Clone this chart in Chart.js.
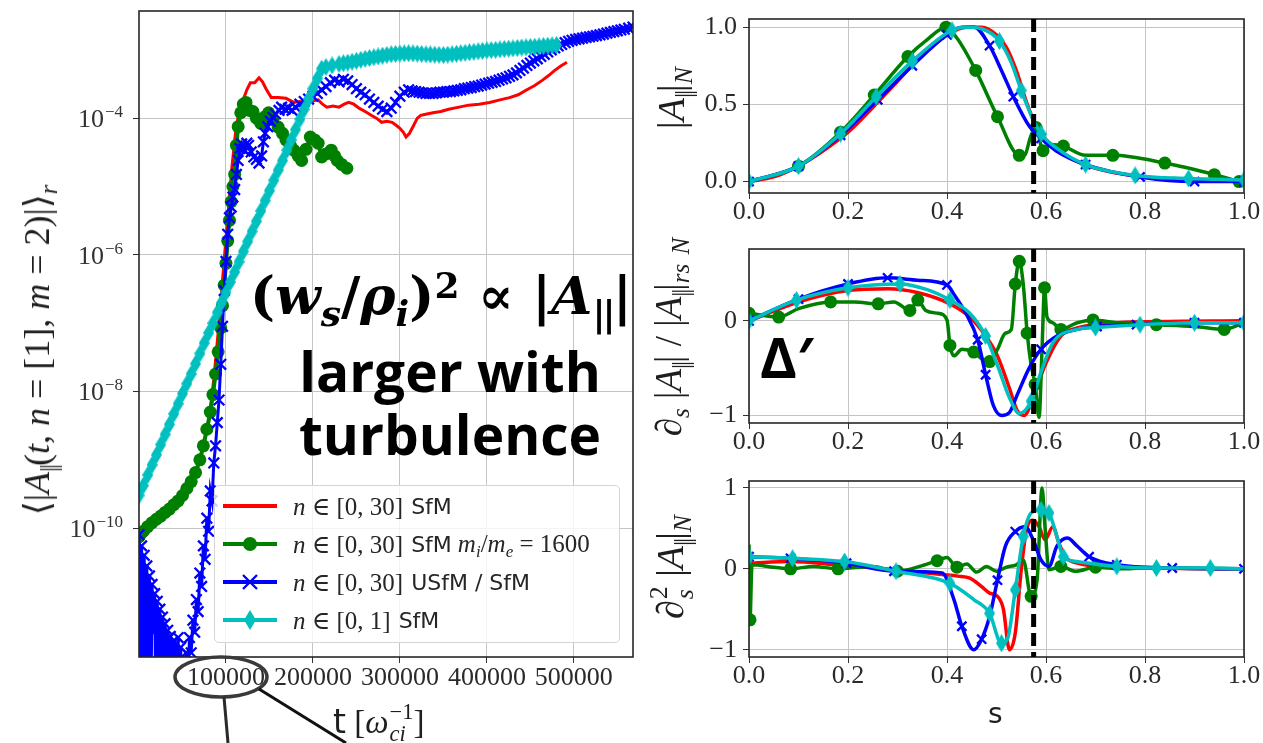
<!DOCTYPE html>
<html>
<head>
<meta charset="utf-8">
<script src="https://cdn.jsdelivr.net/npm/chart.js@4.4.0/dist/chart.umd.min.js"></script>
<style>
  body { margin: 0; background: #fff; }
  #fig { position: relative; width: 1263px; height: 743px; overflow: hidden; background: #fff; }
  #fig canvas { position: absolute; }
  .txt { position: absolute; white-space: nowrap; color: #1e1e1e; line-height: 1; }
  .serif { font-family: 'Liberation Serif', 'DejaVu Serif', serif; }
  .sans { font-family: 'DejaVu Sans', sans-serif; }
  .rot { transform: translate(-50%, -50%) rotate(-90deg); }
  sub, sup { font-size: 0.68em; line-height: 0; position: relative; vertical-align: baseline; }
  sub { top: 0.32em; }
  sup { top: -0.45em; }
  .par { letter-spacing: -0.08em; }
  .stack { display: inline-flex; flex-direction: column; font-size: 0.68em; line-height: 1; vertical-align: 0.62em; margin-left: 1px; }
  #legend { position: absolute; left: 214px; top: 485px; width: 406px; height: 158px; box-sizing: border-box;
            border: 1px solid #d4d4d4; border-radius: 5px; background: rgba(255,255,255,0.8); }
  #legend .row { position: absolute; left: 0; height: 30px; display: flex; align-items: center; white-space: nowrap; color: #262626; }
  #legend svg { margin-left: 6px; margin-right: 14px; }
  #legend .serif { font-size: 25px; }
  #legend .sans { font-size: 22px; margin-left: 8px; }
  .note { position: absolute; color: #000; white-space: nowrap; }
</style>
</head>
<body>
<div id="fig">
  <canvas id="timeTrace" width="650" height="743" style="left:0;top:0"></canvas>
  <canvas id="profile" width="613" height="230" style="left:650px;top:0"></canvas>
  <canvas id="slope" width="613" height="230" style="left:650px;top:230px"></canvas>
  <canvas id="curvature" width="613" height="240" style="left:650px;top:460px"></canvas>

  <!-- axis titles -->
  <div class="txt serif rot" style="left:37px;top:350px;font-size:36px">⟨|<i>A</i><sub class="par">||</sub>(<i>t</i>, <i>n</i> = [1], <i>m</i> = 2)|⟩<sub><i>r</i></sub></div>
  <div class="txt" style="left:333px;top:701px;font-size:33px"><span class="sans">t</span> <span class="serif">[<i>ω</i><span class="stack"><span>−1</span><span><i>ci</i></span></span>]</span></div>
  <div class="txt serif rot" style="left:671px;top:98px;font-size:38px">|<i>A</i><sub class="par">||</sub>|<sub><i>N</i></sub></div>
  <div class="txt serif rot" style="left:668px;top:337px;font-size:37px">∂<sub><i>s</i></sub> |<i>A</i><sub class="par">||</sub>| / |<i>A</i><sub class="par">||</sub>|<sub><i>rs</i></sub> <sub><i>N</i></sub></div>
  <div class="txt serif rot" style="left:672px;top:567px;font-size:38px">∂<span class="stack"><span>2</span><span><i>s</i></span></span> |<i>A</i><sub class="par">||</sub>|<sub><i>N</i></sub></div>
  <div class="txt sans" style="left:988px;top:700px;font-size:28px">s</div>

  <!-- legend of the time traces -->
  <div id="legend">
    <div class="row" style="top:5px"><svg width="58" height="24"><line x1="2" y1="12" x2="56" y2="12" stroke="#ff0000" stroke-width="4"/></svg><span class="serif"><i>n</i> ∈ [0, 30]</span><span class="sans">SfM</span></div>
    <div class="row" style="top:43px"><svg width="58" height="24"><line x1="2" y1="12" x2="56" y2="12" stroke="#008000" stroke-width="4"/><circle cx="29" cy="12" r="7" fill="#008000"/></svg><span class="serif"><i>n</i> ∈ [0, 30]</span><span class="sans">SfM</span><span class="serif" style="margin-left:6px"><i>m<sub>i</sub></i>/<i>m<sub>e</sub></i> = 1600</span></div>
    <div class="row" style="top:81px"><svg width="58" height="24"><line x1="2" y1="12" x2="56" y2="12" stroke="#0000ff" stroke-width="4"/><path d="M22 5 L36 19 M36 5 L22 19" stroke="#0000ff" stroke-width="2.4"/></svg><span class="serif"><i>n</i> ∈ [0, 30]</span><span class="sans">USfM / SfM</span></div>
    <div class="row" style="top:119px"><svg width="58" height="24"><line x1="2" y1="12" x2="56" y2="12" stroke="#00bfbf" stroke-width="4"/><path d="M29 2 L35 12 L29 22 L23 12 Z" fill="#00bfbf"/></svg><span class="serif"><i>n</i> ∈ [0, 1]</span><span class="sans">SfM</span></div>
  </div>

  <!-- annotations -->
  <div class="note" style="left:250px;top:264px;font:bold 53px 'DejaVu Serif',serif">(<i>w</i><sub><i>s</i></sub>/<i>ρ</i><sub><i>i</i></sub>)<sup>2</sup> ∝ |<i>A</i><sub class="par">||</sub>|</div>
  <div class="note" style="left:450px;top:339px;transform:translateX(-50%);text-align:center;font:bold 55px 'Open Sans',sans-serif;line-height:63px">larger with<br>turbulence</div>
  <div class="note" style="left:760px;top:318px;font:bold 56px 'Open Sans','DejaVu Sans',sans-serif">Δ′</div>
  <svg width="1263" height="743" style="position:absolute;left:0;top:0;pointer-events:none">
    <ellipse cx="221" cy="677" rx="46" ry="20" fill="none" stroke="#3a3a3a" stroke-width="3.5"/>
    <line x1="224" y1="697" x2="228" y2="743" stroke="#2a2a2a" stroke-width="3"/>
    <line x1="259" y1="689" x2="346" y2="743" stroke="#111" stroke-width="3"/>
  </svg>
</div>

<script>
// ---------- time traces: t [1/omega_ci] vs <|A_par(t, n=[1], m=2)|>_r ----------
const tTicks = [100000, 200000, 300000, 400000, 500000];
const ampTicks = [1e-10, 1e-8, 1e-6, 1e-4];

const sfmTrace = [
  [0, 6.0e-11], [20e3, 1.2e-10], [40e3, 2.2e-10], [60e3, 4.6e-10], [70e3, 9.5e-10], [80e3, 3.5e-9],
  [86e3, 1.5e-8], [92e3, 1.0e-7], [97e3, 6.0e-7], [102e3, 3.5e-6], [107e3, 2.0e-5], [112e3, 8.0e-5],
  [118e3, 1.6e-4], [124e3, 2.6e-4], [128e3, 3.3e-4], [133e3, 3.3e-4], [138e3, 3.9e-4], [142e3, 3.4e-4],
  [146e3, 2.7e-4], [152e3, 2.0e-4], [160e3, 2.0e-4], [169e3, 1.95e-4], [178e3, 1.7e-4], [185e3, 1.75e-4],
  [192e3, 1.7e-4], [200e3, 1.8e-4], [206e3, 1.85e-4], [211e3, 1.6e-4], [216e3, 1.45e-4], [223e3, 1.5e-4],
  [230e3, 1.45e-4], [236e3, 1.6e-4], [241e3, 1.7e-4], [247e3, 1.6e-4], [253e3, 1.4e-4], [260e3, 1.25e-4],
  [267e3, 1.1e-4], [273e3, 1.0e-4], [279e3, 8.7e-5], [285e3, 9.0e-5], [291e3, 8.7e-5], [296e3, 7.8e-5],
  [300e3, 7.1e-5], [304e3, 6.2e-5], [307e3, 5.3e-5], [311e3, 6.0e-5], [315e3, 7.5e-5], [320e3, 1.0e-4],
  [324e3, 1.1e-4], [331e3, 1.15e-4], [338e3, 1.2e-4], [347e3, 1.25e-4], [356e3, 1.35e-4], [368e3, 1.45e-4],
  [379e3, 1.55e-4], [391e3, 1.6e-4], [403e3, 1.7e-4], [415e3, 1.85e-4], [426e3, 2.0e-4], [436e3, 2.2e-4],
  [446e3, 2.6e-4], [455e3, 3.0e-4], [464e3, 3.6e-4], [471e3, 4.2e-4], [478e3, 5.0e-4], [485e3, 5.8e-4],
  [492e3, 6.6e-4]
];

const massTrace = [
  [0, 7.5e-11], [5e3, 9.0e-11], [10e3, 1.05e-10], [15e3, 1.2e-10], [20e3, 1.35e-10], [25e3, 1.5e-10],
  [30e3, 1.7e-10], [35e3, 1.9e-10], [40e3, 2.2e-10], [45e3, 2.5e-10], [50e3, 3.0e-10], [55e3, 3.8e-10],
  [60e3, 4.8e-10], [65e3, 6.5e-10], [70e3, 1.0e-9], [74e3, 1.6e-9], [78e3, 2.8e-9], [82e3, 5.0e-9],
  [85e3, 9.0e-9], [88e3, 1.8e-8], [91e3, 3.8e-8], [94e3, 8.5e-8], [96e3, 1.8e-7], [98e3, 3.6e-7],
  [100e3, 7.5e-7], [102e3, 1.6e-6], [104e3, 3.2e-6], [106e3, 6.0e-6], [108e3, 1.0e-5], [110e3, 1.5e-5],
  [112e3, 4.0e-5], [114e3, 7.5e-5], [117e3, 1.2e-4], [120e3, 1.6e-4], [123e3, 1.7e-4], [127e3, 1.3e-4],
  [131e3, 1.25e-4], [135e3, 1.0e-4], [140e3, 8.4e-5], [145e3, 1.05e-4], [149e3, 1.2e-4], [154e3, 9.5e-5],
  [160e3, 7.4e-5], [165e3, 6.0e-5], [169e3, 4.8e-5], [174e3, 4.0e-5], [178e3, 3.4e-5], [183e3, 2.8e-5],
  [187e3, 2.4e-5], [192e3, 3.5e-5], [197e3, 5.3e-5], [202e3, 4.8e-5], [206e3, 4.3e-5], [210e3, 2.7e-5],
  [215e3, 3.0e-5], [221e3, 3.4e-5], [225e3, 2.8e-5], [228e3, 2.4e-5], [233e3, 2.1e-5], [239e3, 1.85e-5]
];

const usfmTrace = [
  [0, 8.0e-11], [1.5e3, 1e-13], [3e3, 5.5e-11], [4.5e3, 1e-13], [6e3, 4.0e-11], [7.5e3, 1e-13],
  [9e3, 2.8e-11], [10.5e3, 1e-13], [12e3, 2.0e-11], [13.5e3, 1e-13], [15e3, 1.5e-11], [16.5e3, 3e-12],
  [18e3, 1.1e-11], [19.5e3, 1e-13], [21e3, 8.5e-12], [22.5e3, 1e-13], [24e3, 6.5e-12], [25.5e3, 1e-13],
  [27e3, 5.0e-12], [28.5e3, 1e-13], [30e3, 4.0e-12], [31.5e3, 1e-13], [33e3, 3.2e-12], [34.5e3, 1e-13],
  [36e3, 2.6e-12], [37.5e3, 1e-13], [39e3, 2.2e-12], [40.5e3, 1e-13], [42e3, 2.0e-12], [43.5e3, 1e-13],
  [45e3, 2.5e-12], [46.5e3, 1e-13], [48e3, 1.8e-12], [49.5e3, 1e-13], [51e3, 1.2e-12], [52.5e3, 1e-13],
  [54e3, 1.5e-12], [56e3, 3e-13], [58e3, 2.5e-12], [60e3, 1.5e-12], [62e3, 4.5e-12], [64e3, 3.0e-12],
  [66e3, 9.0e-12], [68e3, 6.0e-12], [70e3, 2.2e-11], [72e3, 1.4e-11], [74e3, 5.5e-11], [76e3, 3.5e-11],
  [78e3, 1.4e-10], [80e3, 9.0e-11], [82e3, 3.5e-10], [84e3, 2.5e-10], [86e3, 9.0e-10], [88e3, 1.6e-9],
  [90e3, 3.5e-9], [92e3, 7.5e-9], [94e3, 2.5e-8], [96e3, 9.0e-8], [98e3, 3.0e-7], [100e3, 8.0e-7],
  [102e3, 2.0e-6], [104e3, 3.5e-6], [106e3, 5.0e-6], [108e3, 7.0e-6], [110e3, 9.0e-6], [112e3, 1.5e-5],
  [114e3, 2.4e-5], [116e3, 3.6e-5], [118e3, 4.2e-5], [120e3, 3.5e-5], [122e3, 3.3e-5], [124e3, 4.3e-5],
  [126e3, 4.0e-5], [129e3, 3.2e-5], [132e3, 2.7e-5], [135e3, 2.5e-5], [138e3, 2.2e-5], [141e3, 2.8e-5],
  [143e3, 4.5e-5], [145e3, 6.0e-5], [148e3, 7.5e-5], [151e3, 9.0e-5], [154e3, 1.03e-4], [157e3, 1.15e-4],
  [161e3, 1.3e-4], [164e3, 1.45e-4], [168e3, 1.35e-4], [172e3, 1.4e-4], [176e3, 1.3e-4], [180e3, 1.45e-4],
  [185e3, 1.6e-4], [190e3, 1.75e-4], [195e3, 1.9e-4], [200e3, 2.1e-4], [205e3, 2.3e-4], [210e3, 2.6e-4],
  [215e3, 2.9e-4], [220e3, 3.3e-4], [225e3, 3.6e-4], [230e3, 3.4e-4], [235e3, 3.7e-4], [240e3, 3.5e-4],
  [245e3, 3.1e-4], [250e3, 2.7e-4], [255e3, 2.4e-4], [260e3, 2.2e-4], [265e3, 1.9e-4], [270e3, 1.7e-4],
  [275e3, 1.5e-4], [280e3, 1.35e-4], [285e3, 1.25e-4], [290e3, 1.4e-4], [295e3, 1.7e-4], [300e3, 2.1e-4],
  [305e3, 2.4e-4], [310e3, 2.6e-4], [314e3, 2.5e-4], [318e3, 2.45e-4], [322e3, 2.4e-4], [326e3, 2.35e-4],
  [330e3, 2.3e-4], [334e3, 2.3e-4], [338e3, 2.3e-4], [342e3, 2.35e-4], [346e3, 2.4e-4], [350e3, 2.4e-4],
  [354e3, 2.45e-4], [358e3, 2.45e-4], [362e3, 2.5e-4], [366e3, 2.55e-4], [370e3, 2.6e-4], [374e3, 2.7e-4],
  [378e3, 2.75e-4], [382e3, 2.8e-4], [386e3, 2.9e-4], [390e3, 2.95e-4], [394e3, 3.05e-4], [398e3, 3.15e-4],
  [402e3, 3.25e-4], [406e3, 3.35e-4], [410e3, 3.45e-4], [414e3, 3.6e-4], [418e3, 3.75e-4], [422e3, 3.9e-4],
  [426e3, 4.1e-4], [430e3, 4.3e-4], [434e3, 4.6e-4], [438e3, 5.0e-4], [442e3, 5.4e-4], [446e3, 5.9e-4],
  [450e3, 6.4e-4], [454e3, 6.9e-4], [458e3, 7.4e-4], [462e3, 8.0e-4], [466e3, 8.6e-4], [470e3, 9.3e-4],
  [474e3, 1.0e-3], [478e3, 1.07e-3], [482e3, 1.14e-3], [486e3, 1.2e-3], [490e3, 1.27e-3], [494e3, 1.33e-3],
  [498e3, 1.38e-3], [502e3, 1.42e-3], [506e3, 1.45e-3], [510e3, 1.48e-3], [514e3, 1.52e-3], [518e3, 1.55e-3],
  [522e3, 1.58e-3], [526e3, 1.62e-3], [530e3, 1.66e-3], [534e3, 1.7e-3], [538e3, 1.75e-3], [542e3, 1.8e-3],
  [546e3, 1.85e-3], [550e3, 1.9e-3], [554e3, 1.95e-3], [558e3, 2.0e-3], [563e3, 2.07e-3], [568e3, 2.15e-3]
];

const singleTrace = [
  [0, 3.0e-10], [5e3, 4.2e-10], [10e3, 6.0e-10], [15e3, 8.4e-10], [20e3, 1.18e-9], [25e3, 1.67e-9],
  [30e3, 2.35e-9], [35e3, 3.3e-9], [40e3, 4.7e-9], [45e3, 6.6e-9], [50e3, 9.3e-9], [55e3, 1.3e-8],
  [60e3, 1.8e-8], [65e3, 2.55e-8], [70e3, 3.6e-8], [75e3, 5.1e-8], [80e3, 7.2e-8], [85e3, 1.0e-7],
  [90e3, 1.43e-7], [95e3, 2.0e-7], [100e3, 2.8e-7], [105e3, 4.0e-7], [110e3, 5.6e-7], [115e3, 7.9e-7],
  [120e3, 1.12e-6], [125e3, 1.57e-6], [130e3, 2.2e-6], [135e3, 3.1e-6], [140e3, 4.4e-6], [145e3, 6.2e-6],
  [150e3, 8.7e-6], [155e3, 1.23e-5], [160e3, 1.73e-5], [165e3, 2.4e-5], [170e3, 3.4e-5], [175e3, 4.8e-5],
  [180e3, 6.8e-5], [185e3, 9.6e-5], [190e3, 1.35e-4], [195e3, 1.9e-4], [200e3, 2.7e-4], [205e3, 3.8e-4],
  [210e3, 5.3e-4], [215e3, 5.6e-4], [222e3, 5.9e-4], [230e3, 6.2e-4], [235e3, 6.35e-4], [240e3, 6.5e-4],
  [245e3, 6.7e-4], [250e3, 6.9e-4], [255e3, 7.15e-4], [260e3, 7.4e-4], [265e3, 7.6e-4], [270e3, 7.8e-4],
  [275e3, 8.0e-4], [280e3, 8.2e-4], [285e3, 8.4e-4], [290e3, 8.6e-4], [295e3, 8.7e-4], [300e3, 8.8e-4],
  [305e3, 8.85e-4], [310e3, 8.9e-4], [315e3, 8.85e-4], [320e3, 8.8e-4], [325e3, 8.7e-4], [330e3, 8.6e-4],
  [335e3, 8.55e-4], [340e3, 8.5e-4], [345e3, 8.45e-4], [350e3, 8.4e-4], [355e3, 8.5e-4], [360e3, 8.6e-4],
  [365e3, 8.75e-4], [370e3, 8.9e-4], [375e3, 9.05e-4], [380e3, 9.2e-4], [385e3, 9.35e-4], [390e3, 9.5e-4],
  [395e3, 9.65e-4], [400e3, 9.8e-4], [405e3, 9.9e-4], [410e3, 1.0e-3], [415e3, 1.015e-3], [420e3, 1.03e-3],
  [425e3, 1.04e-3], [430e3, 1.05e-3], [435e3, 1.065e-3], [440e3, 1.08e-3], [445e3, 1.09e-3], [450e3, 1.1e-3],
  [455e3, 1.11e-3], [460e3, 1.12e-3], [465e3, 1.135e-3], [470e3, 1.15e-3], [475e3, 1.16e-3], [480e3, 1.17e-3]
];

// ---------- radial profiles vs s ----------
const sTicks = [0, 0.2, 0.4, 0.6, 0.8, 1.0];
const sRes = 0.575;            // rational surface (dashed line)
const profTicks = [0, 0.5, 1.0];
const slopeTicks = [-1, 0];
const curvTicks = [-1, 0, 1];

// |A_par|_N
const profSfm = [[0, 0], [0.05, 0.03], [0.1, 0.1], [0.15, 0.2], [0.2, 0.32], [0.25, 0.48], [0.3, 0.65], [0.35, 0.82],
  [0.4, 0.95], [0.44, 1.0], [0.47, 1.0], [0.5, 0.95], [0.52, 0.87], [0.54, 0.72], [0.56, 0.52], [0.58, 0.36],
  [0.6, 0.27], [0.63, 0.19], [0.67, 0.12], [0.72, 0.07], [0.8, 0.03], [0.9, 0.01], [1.0, 0.0]];
const profMass = [[0, 0], [0.1, 0.1], [0.185, 0.32], [0.253, 0.56], [0.321, 0.81], [0.36, 0.92], [0.398, 1.0],
  [0.42, 0.93], [0.458, 0.72], [0.502, 0.42], [0.546, 0.17], [0.556, 0.17], [0.57, 0.3], [0.58, 0.35],
  [0.594, 0.2], [0.61, 0.24], [0.635, 0.23], [0.68, 0.17], [0.735, 0.17], [0.84, 0.12], [0.94, 0.045], [0.99, 0.0]];
const profUsfm = [[0, 0], [0.1, 0.1], [0.185, 0.3], [0.26, 0.53], [0.33, 0.75], [0.4, 0.95], [0.43, 1.0], [0.455, 1.0],
  [0.486, 0.88], [0.51, 0.72], [0.534, 0.55], [0.566, 0.36], [0.59, 0.28], [0.62, 0.2], [0.68, 0.11], [0.79, 0.03],
  [0.9, 0.0], [1.0, 0.0]];
const profSingle = [[0, 0], [0.1, 0.1], [0.185, 0.31], [0.257, 0.55], [0.33, 0.78], [0.41, 0.98], [0.44, 1.0],
  [0.47, 0.99], [0.506, 0.91], [0.53, 0.77], [0.55, 0.59], [0.57, 0.43], [0.59, 0.31], [0.62, 0.22], [0.68, 0.11],
  [0.78, 0.04], [0.888, 0.02], [1.0, 0.01]];

// d_s|A_par| / |A_par|_rs
const slopeSfm = [[0, 0], [0.1, 0.2], [0.2, 0.32], [0.28, 0.34], [0.34, 0.3], [0.406, 0.18], [0.446, 0.04],
  [0.478, -0.16], [0.502, -0.37], [0.526, -0.71], [0.542, -0.95], [0.556, -1.0], [0.574, -0.81], [0.598, -0.47],
  [0.63, -0.16], [0.663, -0.075], [0.743, -0.02], [1.0, 0]];
const slopeMass = [[0, 0.08], [0.06, 0.04], [0.1, 0.13], [0.165, 0.2], [0.213, 0.2], [0.261, 0.18], [0.293, 0.2],
  [0.325, 0.11], [0.341, 0.22], [0.357, 0.11], [0.382, 0.08], [0.4, 0.01], [0.406, -0.26], [0.414, -0.37],
  [0.43, -0.3], [0.454, -0.33], [0.47, -0.4], [0.486, -0.43], [0.502, -0.3], [0.518, -0.13], [0.53, -0.09],
  [0.538, 0.39], [0.546, 0.63], [0.554, 0.39], [0.562, -0.13], [0.57, -0.47], [0.578, -0.67], [0.586, -1.02],
  [0.592, -0.3], [0.597, 0.35], [0.602, 0.04], [0.614, -0.02], [0.63, -0.09], [0.663, -0.02], [0.695, 0.01],
  [0.743, -0.02], [0.823, -0.04], [0.9, -0.06], [0.96, -0.09], [1.0, -0.02]];
const slopeUsfm = [[0, 0], [0.1, 0.23], [0.2, 0.39], [0.28, 0.455], [0.34, 0.43], [0.4, 0.38], [0.414, 0.28],
  [0.438, 0.08], [0.462, -0.2], [0.478, -0.57], [0.494, -0.9], [0.51, -1.0], [0.526, -0.97], [0.542, -0.78],
  [0.566, -0.5], [0.59, -0.3], [0.622, -0.16], [0.663, -0.09], [0.703, -0.06], [0.783, -0.04], [0.9, -0.02], [1.0, -0.02]];
const slopeSingle = [[0, 0], [0.096, 0.22], [0.2, 0.35], [0.305, 0.39], [0.36, 0.33], [0.406, 0.22], [0.446, 0.08],
  [0.478, -0.16], [0.502, -0.47], [0.526, -0.81], [0.546, -0.98], [0.57, -0.85], [0.59, -0.54], [0.614, -0.23],
  [0.663, -0.09], [0.7, -0.07], [0.79, -0.04], [0.9, -0.02], [1.0, -0.02]];

// d_s^2 |A_par|_N
const curvSfm = [[0, 0.07], [0.084, 0.09], [0.18, 0.05], [0.293, -0.01], [0.39, -0.07], [0.422, -0.09], [0.446, -0.115],
  [0.47, -0.22], [0.486, -0.3], [0.502, -0.34], [0.514, -0.5], [0.526, -1.0], [0.538, -0.79], [0.55, -0.01],
  [0.562, 0.52], [0.574, 0.6], [0.586, 0.52], [0.598, 0.36], [0.614, 0.52], [0.626, 0.32], [0.639, 0.15],
  [0.663, 0.07], [0.743, 0.02], [1.0, 0]];
const curvMass = [[0, 0.3], [0.002, -0.63], [0.006, 0.05], [0.05, 0.02], [0.084, 0.0], [0.13, 0.03], [0.18, 0.0],
  [0.25, 0.03], [0.3, -0.03], [0.35, 0.04], [0.38, 0.1], [0.4, 0.14], [0.42, 0.02], [0.44, 0.06], [0.46, -0.04],
  [0.48, 0.03], [0.5, -0.03], [0.52, 0.02], [0.54, 0.05], [0.554, 0.11], [0.57, -0.34], [0.582, -0.14],
  [0.592, 1.0], [0.598, 0.52], [0.606, -0.01], [0.63, 0.03], [0.66, -0.03], [0.7, 0.02], [0.75, 0.0], [0.8, 0.01], [1.0, 0.0]];
const curvUsfm = [[0, 0.15], [0.084, 0.13], [0.197, 0.07], [0.293, -0.03], [0.39, -0.05], [0.414, -0.38], [0.43, -0.71],
  [0.454, -1.0], [0.47, -0.87], [0.486, -0.59], [0.502, -0.14], [0.518, 0.28], [0.538, 0.46], [0.558, 0.52],
  [0.574, 0.36], [0.59, 0.11], [0.606, 0.03], [0.622, 0.28], [0.643, 0.38], [0.663, 0.28], [0.687, 0.15],
  [0.743, 0.05], [0.855, 0.01], [1.0, 0]];
const curvSingle = [[0, 0.15], [0.088, 0.13], [0.193, 0.09], [0.297, -0.03], [0.406, -0.18], [0.454, -0.38],
  [0.486, -0.55], [0.51, -0.92], [0.522, -0.87], [0.538, -0.26], [0.554, 0.4], [0.57, 0.69], [0.59, 0.73],
  [0.606, 0.69], [0.622, 0.4], [0.635, 0.15], [0.663, 0.09], [0.743, 0.03], [0.823, 0.01], [0.932, 0.01], [1.0, 0]];

// where the markers sit on the profile curves
const marksProf = {
  mass: [0.1, 0.185, 0.253, 0.321, 0.398, 0.458, 0.502, 0.546, 0.58, 0.594, 0.635, 0.735, 0.84, 0.94, 0.99],
  usfm: [0, 0.1, 0.185, 0.26, 0.33, 0.4, 0.486, 0.534, 0.59, 0.68, 0.79, 0.9, 1.0],
  single: [0, 0.1, 0.185, 0.257, 0.33, 0.41, 0.506, 0.55, 0.59, 0.68, 0.78, 0.888, 1.0]
};
const marksSlope = {
  mass: [0, 0.06, 0.165, 0.261, 0.325, 0.341, 0.406, 0.454, 0.486, 0.538, 0.546, 0.562, 0.578, 0.597, 0.63, 0.695, 0.823, 0.96],
  usfm: [0, 0.1, 0.2, 0.28, 0.4, 0.462, 0.478, 0.59, 0.703, 0.783, 0.9, 1.0],
  single: [0, 0.096, 0.2, 0.305, 0.406, 0.478, 0.57, 0.7, 0.79, 0.9, 1.0]
};
const marksCurv = {
  mass: [0.002, 0.084, 0.18, 0.3, 0.38, 0.42, 0.57, 0.63, 0.7],
  usfm: [0, 0.084, 0.197, 0.293, 0.43, 0.47, 0.502, 0.538, 0.687, 0.743, 0.855, 1.0],
  single: [0, 0.088, 0.193, 0.297, 0.406, 0.486, 0.51, 0.538, 0.554, 0.59, 0.606, 0.635, 0.743, 0.823, 0.932]
};

const RED = '#ff0000', GREEN = '#008000', BLUE = '#0000ff', CYAN = '#00bfbf';
const SERIF = "'Liberation Serif', 'DejaVu Serif', serif";

// thin diamond marker ('d' in matplotlib)
function thinDiamond(color, w, h) {
  const c = document.createElement('canvas');
  c.width = w; c.height = h;
  const g = c.getContext('2d');
  g.fillStyle = color;
  g.beginPath();
  g.moveTo(w / 2, 0); g.lineTo(w, h / 2); g.lineTo(w / 2, h); g.lineTo(0, h / 2);
  g.closePath(); g.fill();
  return c;
}
const diamond = thinDiamond(CYAN, 11, 18);

function series(points, color, kind, width, order, marks, smooth, markSize) {
  const style = kind === 'cross' ? 'crossRot' : kind === 'diamond' ? diamond : 'circle';
  const size = markSize || (kind === 'diamond' ? 4 : 6.5);
  let radius = 0;
  if (kind !== 'line') radius = marks ? (c => (c.raw && marks.includes(c.raw.x) ? size : 0)) : size;
  return {
    data: points.map(([x, y]) => ({ x, y })),
    borderColor: color,
    backgroundColor: color,
    borderWidth: width,
    pointStyle: style,
    pointRadius: radius,
    pointBorderColor: color,
    pointBackgroundColor: color,
    pointBorderWidth: kind === 'cross' ? 2.3 : 0,
    tension: 0,
    cubicInterpolationMode: smooth ? 'monotone' : 'default',
    clip: 0,
    order
  };
}

const grid = { color: '#c4c4c4', lineWidth: 1, tickLength: 6, tickColor: '#333', drawTicks: true };

const frame = {
  id: 'frame',
  afterDatasetsDraw(chart) {
    const { ctx, chartArea: a } = chart;
    ctx.save();
    ctx.strokeStyle = '#262626';
    ctx.lineWidth = 1.6;
    ctx.strokeRect(a.left, a.top, a.right - a.left, a.bottom - a.top);
    ctx.restore();
  }
};

const resonance = {
  id: 'resonance',
  afterDatasetsDraw(chart) {
    const { ctx, chartArea: a } = chart;
    const x = chart.scales.x.getPixelForValue(sRes);
    ctx.save();
    ctx.strokeStyle = '#000';
    ctx.lineWidth = 5;
    ctx.setLineDash([13, 6]);
    ctx.beginPath();
    ctx.moveTo(x, a.top);
    ctx.lineTo(x, a.bottom);
    ctx.stroke();
    ctx.restore();
  }
};

// 10^-n labels on the log axis
const powerLabels = {
  id: 'powerLabels',
  afterDraw(chart) {
    const sc = chart.scales.y, ctx = chart.ctx;
    ctx.save();
    ctx.fillStyle = '#333';
    ctx.textAlign = 'right';
    ctx.textBaseline = 'alphabetic';
    ampTicks.forEach(v => {
      const y = sc.getPixelForValue(v);
      const exp = '\u2212' + Math.round(-Math.log10(v));
      const right = sc.right - 16;
      ctx.font = '17px ' + SERIF;
      const ew = ctx.measureText(exp).width;
      ctx.fillText(exp, right, y - 1);
      ctx.font = '26px ' + SERIF;
      ctx.fillText('10', right - ew - 1, y + 9);
    });
    ctx.restore();
  }
};

function tickAxis(min, max, ticks, size, fmt, pad) {
  return {
    type: 'linear', min, max,
    afterBuildTicks: s => { s.ticks = ticks.map(v => ({ value: v })); },
    afterFit: s => { if (s.isHorizontal()) s.height = size; else s.width = size; },
    ticks: { font: { family: SERIF, size: 26, lineHeight: 1 }, color: '#2a2a2a', padding: pad,
             maxRotation: 0, autoSkip: false, callback: fmt },
    grid, border: { display: false }
  };
}

function makeChart(id, datasets, scales, padding, plugins) {
  return new Chart(document.getElementById(id), {
    type: 'line',
    data: { datasets },
    options: {
      responsive: false, animation: false, events: [],
      layout: { padding },
      plugins: { legend: { display: false }, tooltip: { enabled: false } },
      scales
    },
    plugins
  });
}

const minus = v => (v < 0 ? '\u2212' + Math.abs(v) : String(v));

// left: amplitude of the (1,2) harmonic against time
makeChart('timeTrace', [
  series(sfmTrace, RED, 'line', 3, 4),
  series(massTrace, GREEN, 'circle', 4, 3),
  series(usfmTrace, BLUE, 'cross', 3, 2, null, false, 7.5),
  series(singleTrace, CYAN, 'diamond', 4, 1)
], {
  x: tickAxis(0, 568000, tTicks, 86, v => String(v), 2),
  y: {
    type: 'logarithmic', min: 1.3e-12, max: 3.7e-3,
    afterBuildTicks: s => { s.ticks = ampTicks.map(v => ({ value: v })); },
    afterFit: s => { s.width = 139; },
    ticks: { display: false },
    grid, border: { display: false }
  }
}, { top: 11, right: 17, left: 0, bottom: 0 }, [frame, powerLabels]);

const sFmt = v => v.toFixed(1);

makeChart('profile', [
  series(profSfm, RED, 'line', 3.5, 4, null, true),
  series(profMass, GREEN, 'circle', 3.5, 3, marksProf.mass, true),
  series(profUsfm, BLUE, 'cross', 3.5, 2, marksProf.usfm, true),
  series(profSingle, CYAN, 'diamond', 3.5, 1, marksProf.single, true)
], {
  x: tickAxis(0, 1, sTicks, 37, sFmt, 0),
  y: tickAxis(-0.074, 1.053, profTicks, 99, sFmt, 6)
}, { top: 11, right: 19, left: 0, bottom: 0 }, [frame, resonance]);

makeChart('slope', [
  series(slopeSfm, RED, 'line', 3.5, 4, null, true),
  series(slopeMass, GREEN, 'circle', 3.5, 3, marksSlope.mass, true),
  series(slopeUsfm, BLUE, 'cross', 3.5, 2, marksSlope.usfm, true),
  series(slopeSingle, CYAN, 'diamond', 3.5, 1, marksSlope.single, true)
], {
  x: tickAxis(0, 1, sTicks, 37, sFmt, 0),
  y: tickAxis(-1.08, 0.76, slopeTicks, 99, minus, 6)
}, { top: 13, right: 19, left: 0, bottom: 0 }, [frame, resonance]);

makeChart('curvature', [
  series(curvSfm, RED, 'line', 3.5, 4, null, true),
  series(curvMass, GREEN, 'circle', 3.5, 3, marksCurv.mass, true),
  series(curvUsfm, BLUE, 'cross', 3.5, 2, marksCurv.usfm, true),
  series(curvSingle, CYAN, 'diamond', 3.5, 1, marksCurv.single, true)
], {
  x: tickAxis(0, 1, sTicks, 43, sFmt, 0),
  y: tickAxis(-1.09, 1.086, curvTicks, 99, minus, 6)
}, { top: 21, right: 19, left: 0, bottom: 0 }, [frame, resonance]);
</script>
</body>
</html>
